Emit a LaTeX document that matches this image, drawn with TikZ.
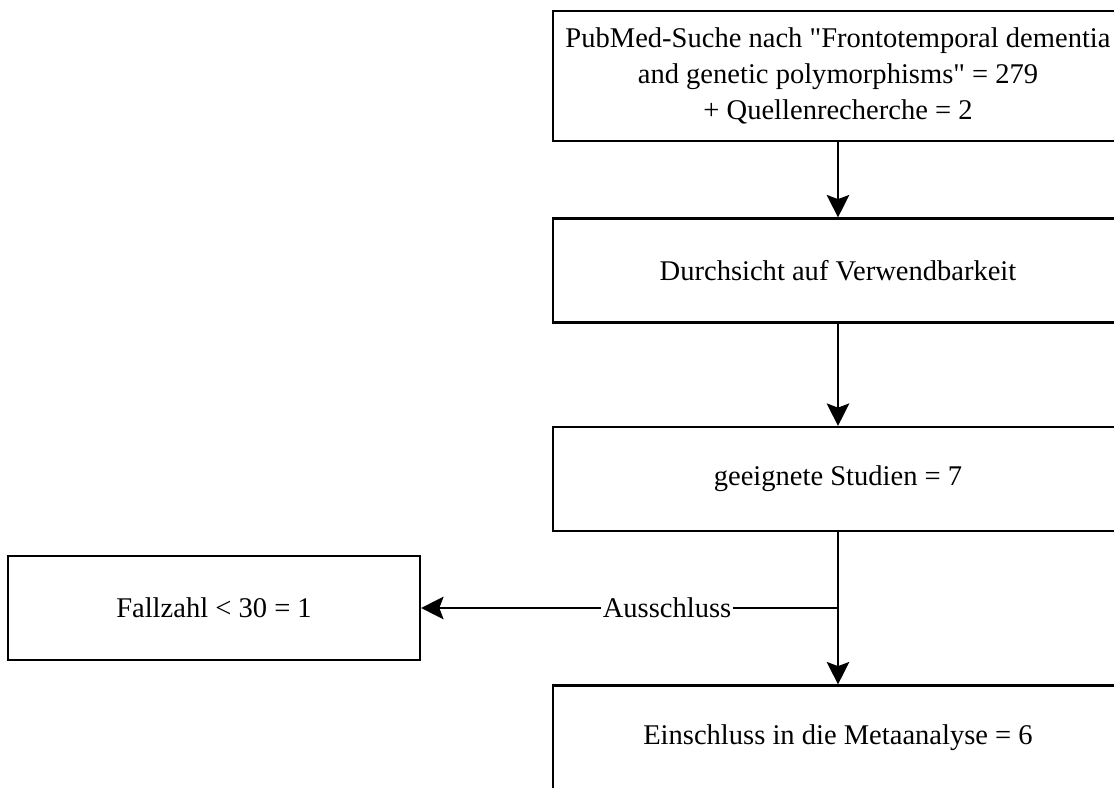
\documentclass[tikz,border=0pt]{standalone}
\usepackage{fontspec}
\setmainfont{Liberation Serif}
\usepackage{tikz}
\usetikzlibrary{positioning,arrows.meta}

\begin{document}
\begin{tikzpicture}[
    font=\fontsize{20.3}{25.5}\selectfont,
    box/.style={draw,line width=1.5pt,align=center,minimum width=14.25cm,minimum height=2.6cm},
    arr/.style={-{Stealth[length=16pt,width=16pt,inset=3pt]},line width=1.5pt},
    lbl/.style={fill=white,inner sep=1pt}
  ]
    \useasboundingbox (0,0) rectangle (27.85,19.675);

    \node[box,minimum height=3.25cm] (search) at (20.95,17.775) {PubMed-Suche nach \textquotedbl Frontotemporal dementia\\and genetic polymorphisms\textquotedbl{} = 279\\+ Quellenrecherche = 2};
    \node[box] (review) at (20.95,12.9125) {Durchsicht auf Verwendbarkeit};
    \node[box] (suitable) at (20.95,7.7) {geeignete Studien = 7};
    \node[box] (meta) at (20.95,1.2375) {Einschluss in die Metaanalyse = 6};
    \node[box,minimum width=10.3cm] (excl) at (5.35,4.475) {Fallzahl < 30 = 1};

    \coordinate (split) at (20.95,4.475);

    \draw[arr] (search) -- (review);
    \draw[arr] (review) -- (suitable);
    \draw[arr] (suitable) -- (meta);
    \draw[arr] (split) -- node[lbl,pos=0.41] {Ausschluss} (excl);
  \end{tikzpicture}
\end{document}
